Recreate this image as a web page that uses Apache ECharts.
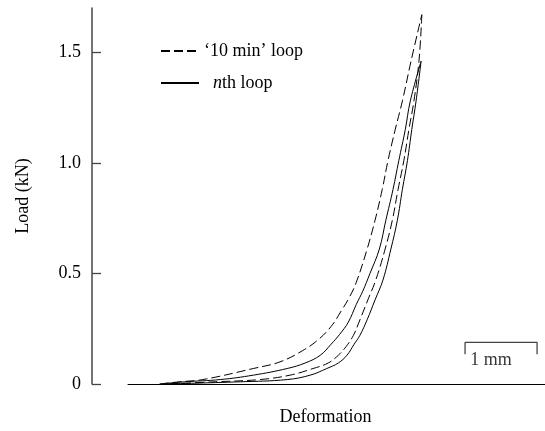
<!DOCTYPE html>
<html>
<head>
<meta charset="utf-8">
<script src="https://cdn.jsdelivr.net/npm/echarts@6/dist/echarts.min.js"></script>
<style>
  html, body { margin: 0; padding: 0; background: #fff; }
  #chart { width: 545px; height: 431px; }
</style>
</head>
<body>
<div id="chart"></div>
<script>
// deformation in mm, load in kN
const dashedUpX = [0.44, 0.72, 1.04, 1.74, 2.11, 2.42, 2.64, 2.82, 2.96, 3.07, 3.17, 3.32, 3.43, 3.53, 3.61, 3.71, 3.81, 3.93, 4.08]
const dashedUpY = [0, 0.01, 0.02, 0.07, 0.1, 0.15, 0.2, 0.26, 0.33, 0.39, 0.46, 0.61, 0.74, 0.88, 1.01, 1.15, 1.28, 1.46, 1.67]
const dashedDownX = [4.08, 4.04, 3.97, 3.9, 3.83, 3.75, 3.67, 3.57, 3.44, 3.33, 3.22, 3.13, 3.03, 2.92, 2.78, 2.57, 2.25, 1.83, 1.21, 0.51]
const dashedDownY = [1.67, 1.46, 1.28, 1.15, 1.01, 0.88, 0.74, 0.61, 0.47, 0.38, 0.29, 0.22, 0.17, 0.13, 0.095, 0.07, 0.04, 0.02, 0.01, 0]

const solidUpX = [0.44, 0.79, 1.28, 1.74, 2.21, 2.46, 2.67, 2.82, 2.94, 3.06, 3.17, 3.26, 3.36, 3.49, 3.58, 3.68, 3.76, 3.85, 3.92, 4.07]
const solidUpY = [0, 0.01, 0.02, 0.04, 0.07, 0.095, 0.13, 0.18, 0.225, 0.28, 0.36, 0.42, 0.5, 0.61, 0.74, 0.88, 1.01, 1.15, 1.28, 1.46]
const solidDownX = [4.07, 4.0, 3.94, 3.88, 3.81, 3.74, 3.65, 3.54, 3.43, 3.32, 3.22, 3.14, 3.04, 2.92, 2.76, 2.53, 2.21, 1.56, 0.51]
const solidDownY = [1.46, 1.28, 1.15, 1.01, 0.88, 0.74, 0.61, 0.47, 0.38, 0.29, 0.22, 0.18, 0.13, 0.095, 0.07, 0.04, 0.02, 0.01, 0]

const yTicks = [0, 0.5, 1, 1.5]
const yTickLabels = ['0', '0.5', '1.0', '1.5']

// 1 mm scale bar
const scaleBarX = [4.68, 4.68, 5.68, 5.68]
const scaleBarY = [0.135, 0.188, 0.188, 0.135]
const scaleLabelPos = [5.04, 0.108]

const dashedName = '\u201810 min\u2019 loop'
const solidName = 'nth loop'

const zip = (xs, ys) => xs.map((x, i) => [x, ys[i]])

const font = 'Liberation Serif'
const chart = echarts.init(document.getElementById('chart'))

const curve = (name, xs, ys, dashed) => ({
  name,
  type: 'line',
  data: zip(xs, ys),
  smooth: 0.4,
  symbol: 'none',
  lineStyle: { color: '#000', width: 1, type: dashed ? [9, 4] : 'solid' },
  itemStyle: { color: '#000' },
  silent: true,
})

chart.setOption({
  animation: false,
  grid: { left: 128, right: 0, top: 8, bottom: 46 },
  legend: {
    data: [dashedName, solidName],
    orient: 'vertical',
    left: 155,
    top: 36,
    itemWidth: 38,
    itemHeight: 12,
    itemGap: 12,
    itemStyle: { opacity: 0 },
    textStyle: {
      fontFamily: font,
      fontSize: 18,
      color: '#000',
      lineHeight: 20,
      rich: { i: { fontFamily: font, fontSize: 18, fontStyle: 'italic', padding: [0, 0, 0, 9] } },
    },
    formatter: (name) => (name === solidName ? '{i|n}th loop' : name),
  },
  xAxis: {
    type: 'value',
    min: 0,
    max: 5.79,
    axisLine: { show: true, onZero: false, lineStyle: { color: '#000', width: 1 } },
    axisTick: { show: false },
    axisLabel: { show: false },
    splitLine: { show: false },
    name: 'Deformation',
    nameLocation: 'middle',
    nameGap: 24,
    nameTextStyle: { fontFamily: font, fontSize: 18, color: '#000', padding: [0, 22, 0, 0] },
  },
  yAxis: {
    type: 'value',
    min: 0,
    max: 1.7,
    offset: 36,
    axisLine: { show: true, onZero: false, lineStyle: { color: '#444', width: 1.5 } },
    axisTick: {
      show: true,
      inside: true,
      length: 9,
      customValues: yTicks,
      lineStyle: { color: '#444', width: 1.3 },
    },
    axisLabel: {
      customValues: yTicks,
      margin: 11,
      fontFamily: font,
      fontSize: 18,
      color: '#000',
      formatter: (v) => yTickLabels[yTicks.indexOf(v)] ?? '',
    },
    splitLine: { show: false },
    name: 'Load (kN)',
    nameLocation: 'middle',
    nameRotate: 90,
    nameGap: 60,
    nameTextStyle: { fontFamily: font, fontSize: 18, color: '#000' },
  },
  series: [
    curve(dashedName, dashedUpX, dashedUpY, true),
    curve(dashedName, dashedDownX, dashedDownY, true),
    curve(solidName, solidUpX, solidUpY, false),
    curve(solidName, solidDownX, solidDownY, false),
    {
      name: 'scale',
      type: 'line',
      data: zip(scaleBarX, scaleBarY),
      symbol: 'none',
      lineStyle: { color: '#444', width: 1.3 },
      silent: true,
    },
    {
      name: 'scaleLabel',
      type: 'scatter',
      data: [scaleLabelPos],
      symbolSize: 0,
      silent: true,
      label: {
        show: true,
        position: 'inside',
        formatter: '1 mm',
        fontFamily: font,
        fontSize: 18,
        color: '#000',
      },
    },
  ],
})
</script>
</body>
</html>
